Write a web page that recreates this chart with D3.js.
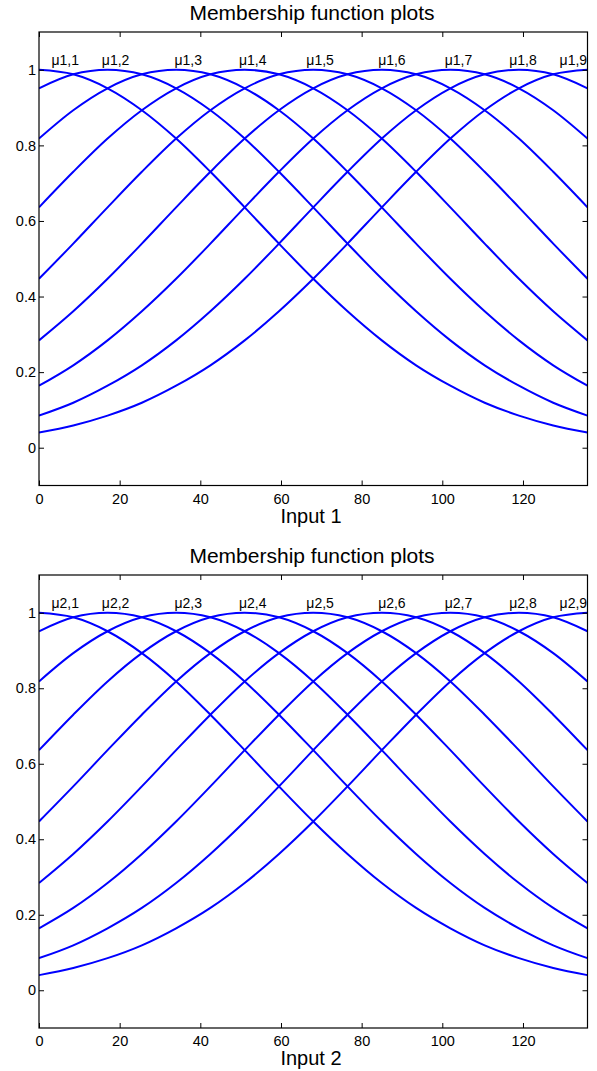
<!DOCTYPE html>
<html>
<head>
<meta charset="utf-8">
<script src="https://cdn.jsdelivr.net/npm/d3@7"></script>
<style>
  html, body { margin: 0; padding: 0; background: #fff; }
  svg { display: block; font-family: "Liberation Sans", Arial, Helvetica, sans-serif; }
</style>
</head>
<body>
<svg id="chart" width="597" height="1071"></svg>
<script>
// ---- data ----
const xSamples = [0, 8.5, 17, 25.5, 34, 42.5, 51, 59.5, 68, 76.5, 85, 93.5, 102, 110.5, 119, 127.5, 136];
const mf1 = [1, 0.988, 0.951, 0.893, 0.818, 0.730, 0.636, 0.540, 0.447, 0.361, 0.284, 0.218, 0.164, 0.119, 0.085, 0.059, 0.040];
const mf2 = [0.951, 0.988, 1, 0.988, 0.951, 0.893, 0.818, 0.730, 0.636, 0.540, 0.447, 0.361, 0.284, 0.218, 0.164, 0.119, 0.085];
const mf3 = [0.818, 0.893, 0.951, 0.988, 1, 0.988, 0.951, 0.893, 0.818, 0.730, 0.636, 0.540, 0.447, 0.361, 0.284, 0.218, 0.164];
const mf4 = [0.636, 0.730, 0.818, 0.893, 0.951, 0.988, 1, 0.988, 0.951, 0.893, 0.818, 0.730, 0.636, 0.540, 0.447, 0.361, 0.284];
const mf5 = [0.447, 0.540, 0.636, 0.730, 0.818, 0.893, 0.951, 0.988, 1, 0.988, 0.951, 0.893, 0.818, 0.730, 0.636, 0.540, 0.447];
const mf6 = [0.284, 0.361, 0.447, 0.540, 0.636, 0.730, 0.818, 0.893, 0.951, 0.988, 1, 0.988, 0.951, 0.893, 0.818, 0.730, 0.636];
const mf7 = [0.164, 0.218, 0.284, 0.361, 0.447, 0.540, 0.636, 0.730, 0.818, 0.893, 0.951, 0.988, 1, 0.988, 0.951, 0.893, 0.818];
const mf8 = [0.085, 0.119, 0.164, 0.218, 0.284, 0.361, 0.447, 0.540, 0.636, 0.730, 0.818, 0.893, 0.951, 0.988, 1, 0.988, 0.951];
const mf9 = [0.040, 0.059, 0.085, 0.119, 0.164, 0.218, 0.284, 0.361, 0.447, 0.540, 0.636, 0.730, 0.818, 0.893, 0.951, 0.988, 1];
const seriesList = [mf1, mf2, mf3, mf4, mf5, mf6, mf7, mf8, mf9];

const labelX = [6.5, 19, 37, 53, 69.7, 87.5, 104, 120, 132.5];
const labels1 = ["μ1,1", "μ1,2", "μ1,3", "μ1,4", "μ1,5", "μ1,6", "μ1,7", "μ1,8", "μ1,9"];
const labels2 = ["μ2,1", "μ2,2", "μ2,3", "μ2,4", "μ2,5", "μ2,6", "μ2,7", "μ2,8", "μ2,9"];
const xTicks = [0, 20, 40, 60, 80, 100, 120];
const yTicks = [0, 0.2, 0.4, 0.6, 0.8, 1];
const xDomain = [0, 136];
const yDomain = [-0.1, 1.1];
const panelTitle = "Membership function plots";
const xTitles = ["Input 1", "Input 2"];

// ---- drawing ----
const svg = d3.select("#chart");
const left = 39, right = 587.5;
const panels = [
  { top: 32, bottom: 485.5, labels: labels1, xTitle: xTitles[0] },
  { top: 575, bottom: 1028, labels: labels2, xTitle: xTitles[1] }
];

panels.forEach(p => {
  const x = d3.scaleLinear().domain(xDomain).range([left, right]);
  const y = d3.scaleLinear().domain(yDomain).range([p.bottom, p.top]);
  const g = svg.append("g");

  // title
  g.append("text")
    .attr("x", 312)
    .attr("y", p.top - 12)
    .attr("text-anchor", "middle")
    .attr("font-size", 21)
    .attr("fill", "#000")
    .text(panelTitle);

  // curves
  const line = d3.line()
    .x((d, i) => x(xSamples[i]))
    .y(d => y(d))
    .curve(d3.curveMonotoneX);
  const clipId = "clip" + p.top;
  g.append("clipPath").attr("id", clipId)
    .append("rect").attr("x", left).attr("y", p.top)
    .attr("width", right - left).attr("height", p.bottom - p.top);
  g.append("g").attr("clip-path", `url(#${clipId})`)
    .selectAll("path").data(seriesList).join("path")
    .attr("d", line)
    .attr("fill", "none")
    .attr("stroke", "#0000ff")
    .attr("stroke-width", 2);

  // MF labels
  g.selectAll("text.mf").data(p.labels).join("text")
    .attr("class", "mf")
    .attr("x", (d, i) => x(labelX[i]))
    .attr("y", y(1) - 5)
    .attr("text-anchor", "middle")
    .attr("font-size", 14)
    .attr("fill", "#000")
    .text(d => d);

  // axes
  const tl = 5;
  const axB = d3.axisBottom(x).tickValues(xTicks).tickSizeInner(-tl).tickSizeOuter(0).tickPadding(8).tickFormat(d3.format("d"));
  const axT = d3.axisTop(x).tickValues(xTicks).tickSizeInner(-tl).tickSizeOuter(0).tickFormat("");
  const axL = d3.axisLeft(y).tickValues(yTicks).tickSizeInner(-tl).tickSizeOuter(0).tickPadding(3).tickFormat(d => d === 0 ? "0" : d === 1 ? "1" : d3.format(".1f")(d));
  const axR = d3.axisRight(y).tickValues(yTicks).tickSizeInner(-tl).tickSizeOuter(0).tickFormat("");

  const gb = g.append("g").attr("transform", `translate(0,${p.bottom})`).call(axB);
  const gt = g.append("g").attr("transform", `translate(0,${p.top})`).call(axT);
  const gl = g.append("g").attr("transform", `translate(${left},0)`).call(axL);
  const gr = g.append("g").attr("transform", `translate(${right},0)`).call(axR);
  [gb, gt, gl, gr].forEach(a => {
    a.select(".domain").remove();
    a.selectAll("line").attr("stroke", "#000").attr("stroke-width", 1);
    a.selectAll("text").attr("font-size", 14.5).attr("fill", "#000").attr("font-family", "Liberation Sans, Arial, sans-serif");
  });

  // box
  g.append("rect")
    .attr("x", left).attr("y", p.top)
    .attr("width", right - left).attr("height", p.bottom - p.top)
    .attr("fill", "none").attr("stroke", "#000").attr("stroke-width", 1.2);

  // x title
  g.append("text")
    .attr("x", 311)
    .attr("y", p.bottom + 37)
    .attr("text-anchor", "middle")
    .attr("font-size", 20)
    .attr("fill", "#000")
    .text(p.xTitle);
});
</script>
</body>
</html>
